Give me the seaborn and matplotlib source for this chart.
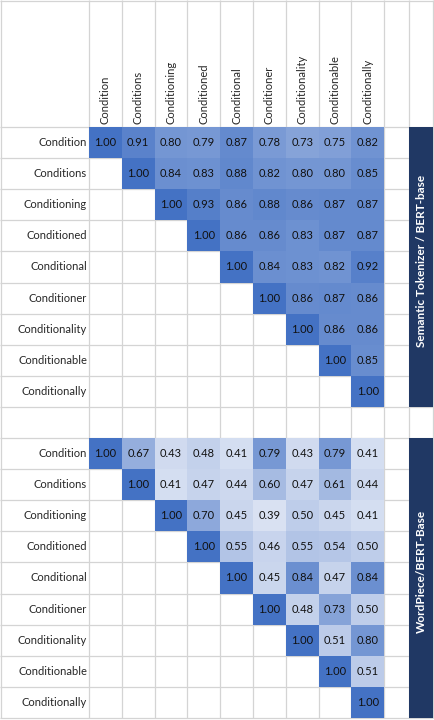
import numpy as np
import pandas as pd
import matplotlib
matplotlib.use("Agg")
import matplotlib.pyplot as plt
from matplotlib.colors import LinearSegmentedColormap
from matplotlib.patches import Rectangle
import seaborn as sns

# words compared (rows and columns)
words = ["Condition", "Conditions", "Conditioning", "Conditioned", "Conditional",
         "Conditioner", "Conditionality", "Conditionable", "Conditionally"]

# upper triangle of the similarity matrices, row by row
semantic_rows = [
    [1.00, 0.91, 0.80, 0.79, 0.87, 0.78, 0.73, 0.75, 0.82],
    [1.00, 0.84, 0.83, 0.88, 0.82, 0.80, 0.80, 0.85],
    [1.00, 0.93, 0.86, 0.88, 0.86, 0.87, 0.87],
    [1.00, 0.86, 0.86, 0.83, 0.87, 0.87],
    [1.00, 0.84, 0.83, 0.82, 0.92],
    [1.00, 0.86, 0.87, 0.86],
    [1.00, 0.86, 0.86],
    [1.00, 0.85],
    [1.00],
]
wordpiece_rows = [
    [1.00, 0.67, 0.43, 0.48, 0.41, 0.79, 0.43, 0.79, 0.41],
    [1.00, 0.41, 0.47, 0.44, 0.60, 0.47, 0.61, 0.44],
    [1.00, 0.70, 0.45, 0.39, 0.50, 0.45, 0.41],
    [1.00, 0.55, 0.46, 0.55, 0.54, 0.50],
    [1.00, 0.45, 0.84, 0.47, 0.84],
    [1.00, 0.48, 0.73, 0.50],
    [1.00, 0.51, 0.80],
    [1.00, 0.51],
    [1.00],
]
panel_titles = ["Semantic Tokenizer / BERT-base", "WordPiece/BERT-Base"]


def to_frame(rows):
    n = len(words)
    m = np.full((n, n), np.nan)
    for i, r in enumerate(rows):
        m[i, i:] = r
    return pd.DataFrame(m, index=words, columns=words)


frames = [to_frame(semantic_rows), to_frame(wordpiece_rows)]
vmin = min(np.nanmin(f.values) for f in frames)
vmax = max(np.nanmax(f.values) for f in frames)

sns.set_style("white")
plt.rcParams['font.family'] = ['Lato', 'DejaVu Sans']

W, H = 435, 720
fig = plt.figure(figsize=(W / 100, H / 100), dpi=100)

# pixel layout of the sheet
label_w = 89
cell_w = 32.8
cell_h = 31.1
header_h = 127
data_x1 = label_w + 9 * cell_w
bar_x0, bar_x1 = 409, 433
block_y0 = [header_h, header_h + 10 * cell_h]

grid_color = "#d4d4d4"
cmap = LinearSegmentedColormap.from_list("xl", ["#d9e1f2", "#4472c4"])

# background: spreadsheet gridlines and side bars
bg = fig.add_axes([0, 0, 1, 1])
bg.set_xlim(0, W)
bg.set_ylim(H, 0)
bg.axis("off")
xs = [0.5, label_w] + [label_w + cell_w * k for k in range(1, 10)] + [bar_x0, bar_x1]
y_end = block_y0[1] + 9 * cell_h
ys = [0.5] + [header_h + cell_h * k for k in range(0, 20)]
bg.vlines(xs, 0, y_end, color=grid_color, lw=0.9)
bg.hlines(ys, 0, bar_x1, color=grid_color, lw=0.9)

for y0, title in zip(block_y0, panel_titles):
    bg.add_patch(Rectangle((bar_x0, y0), bar_x1 - bar_x0, 9 * cell_h,
                           facecolor="#203864", edgecolor="none", zorder=3))
    bg.text((bar_x0 + bar_x1) / 2 + 0.5, y0 + 4.3 * cell_h, title, rotation=90,
            color="white", fontsize=8.5, fontweight="bold",
            ha="center", va="center", zorder=4)

# the two triangular heatmaps
for k, (df, y0) in enumerate(zip(frames, block_y0)):
    ax = fig.add_axes([label_w / W, 1 - (y0 + 9 * cell_h) / H,
                       (data_x1 - label_w) / W, 9 * cell_h / H])
    ax.patch.set_alpha(0)
    sns.heatmap(df, ax=ax, cmap=cmap, vmin=vmin, vmax=vmax, cbar=False,
                annot=True, fmt=".2f",
                annot_kws={"color": "#111111", "fontsize": 8})
    ax.tick_params(length=0, pad=1.5)
    ax.set_yticklabels(words, rotation=0, fontsize=8)
    ax.set_xlabel("")
    ax.set_ylabel("")
    if k == 0:
        ax.xaxis.tick_top()
        ax.set_xticklabels(words, rotation=90, fontsize=8)
        ax.tick_params(axis="x", pad=2)
    else:
        ax.set_xticks([])

fig.savefig("out.png", dpi=100)
